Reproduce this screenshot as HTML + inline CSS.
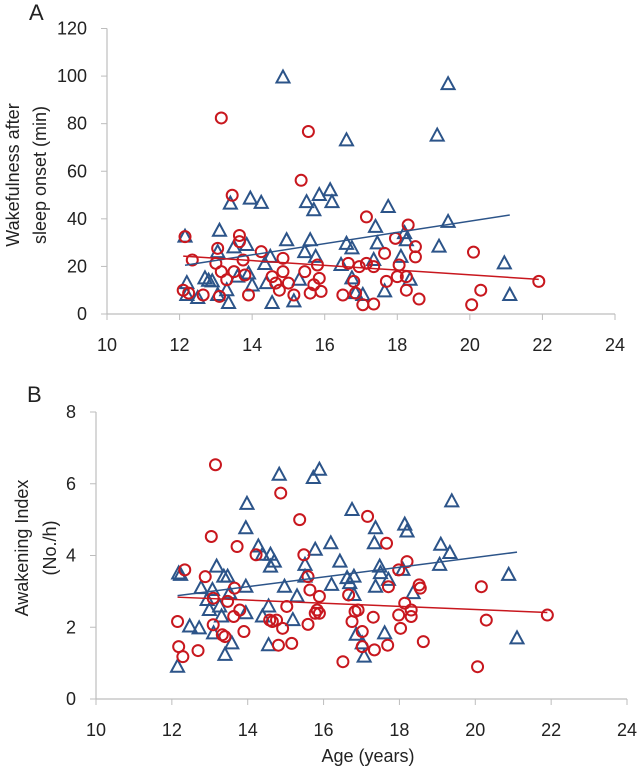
<!DOCTYPE html>
<html><head><meta charset="utf-8"><style>
body{margin:0;background:#fff;}
svg text{font-family:"Liberation Sans",sans-serif;fill:#222;}
</style></head><body>
<svg id="chart" width="640" height="768" xmlns="http://www.w3.org/2000/svg"></svg>
<script>
// Panel A data (age, WASO minutes)
const aTriX=[12.15,12.2,12.2,12.5,12.7,12.8,12.9,13.05,13.1,13.05,13.3,13.35,13.4,13.5,13.6,13.85,13.9,14.0,13.95,14.25,14.35,14.4,14.5,14.55,14.85,14.95,15.15,15.3,15.45,15.5,15.6,15.7,15.75,15.85,16.15,16.2,16.45,16.6,16.6,16.75,16.75,16.85,17.05,17.35,17.4,17.45,17.65,17.75,18.1,18.2,18.25,18.35,19.1,19.15,19.4,19.4,20.95,21.1];
const aTriY=[32.5,13,8,6.7,15,14,13.7,26,35,8,10,4.6,46.4,28,15.7,29,17,12,48.5,46.7,21,13,24,4.6,99.4,31,5.3,14.4,26,47,31,43.6,24,50,52,47,20.6,73,29.5,27.6,15,8.8,8,22.7,36.6,29.7,9.5,45,24,34,31,14.4,75,28.3,96.6,38.7,21.3,8];
const aCirX=[12.15,12.1,12.25,12.35,12.65,13.05,13.0,13.15,13.1,13.15,13.3,13.45,13.5,13.65,13.65,13.75,13.8,13.9,14.25,14.55,14.65,14.75,14.85,14.85,15.0,15.15,15.35,15.45,15.55,15.6,15.7,15.8,15.85,15.9,16.5,16.65,16.8,16.85,16.95,17.05,17.15,17.15,17.35,17.35,17.65,17.7,17.95,18.0,18.05,18.25,18.25,18.3,18.5,18.5,18.6,20.05,20.1,20.3,21.9];
const aCirY=[32.5,10,8.8,22.7,8,27.6,21.3,17.8,7.4,82.4,14.4,49.9,17.8,33,30.4,22.7,16.4,8,26.2,15.7,13,10,23.4,17.8,13,8,56.2,17.8,76.7,8.8,12.3,20.6,15,9.5,8,21.3,13.7,8.8,19.9,3.9,21.3,40.8,19.9,4.2,25.5,13.7,31.8,15.7,20.6,15.7,10,37.4,28.3,24,6.3,3.9,26,10,13.7];
const aXTicks=[10,12,14,16,18,20,22,24];
const aYTicks=[0,20,40,60,80,100,120];
// Panel B data (age, awakening index)
const bTriX=[12.15,12.18,12.23,12.47,12.72,12.77,12.93,12.99,13.07,13.1,13.18,13.26,13.31,13.37,13.4,13.47,13.52,13.58,13.95,13.95,13.95,13.98,14.28,14.39,14.39,14.55,14.55,14.6,14.6,14.7,14.83,14.97,15.19,15.3,15.51,15.51,15.73,15.78,15.89,16.19,16.21,16.43,16.62,16.69,16.75,16.8,16.8,16.86,17.02,17.07,17.34,17.37,17.37,17.48,17.5,17.61,17.71,18.09,18.14,18.2,18.36,19.06,19.09,19.33,19.38,20.88,21.1];
const bTriY=[0.9,3.5,3.46,2.02,1.97,3.09,2.76,2.48,3.04,1.83,3.69,2.58,2.3,3.41,1.23,3.41,2.95,1.55,3.13,2.39,4.76,5.44,4.25,4.02,2.3,2.58,1.5,4.02,3.69,3.83,6.25,3.13,2.2,2.86,3.74,3.41,6.16,4.16,6.39,4.34,3.18,3.83,3.37,3.23,5.27,3.41,2.9,1.79,1.55,1.18,4.34,4.76,3.13,3.69,3.51,1.83,3.32,3.6,4.86,4.67,2.95,3.74,4.3,4.07,5.51,3.46,1.69];
const bCirX=[12.15,12.18,12.29,12.34,12.69,12.88,13.04,13.09,13.09,13.15,13.33,13.4,13.47,13.63,13.65,13.72,13.79,13.9,14.22,14.58,14.65,14.76,14.81,14.87,14.92,15.03,15.16,15.37,15.48,15.59,15.59,15.64,15.78,15.83,15.89,15.89,16.51,16.66,16.75,16.83,16.91,17.02,17.02,17.16,17.31,17.34,17.66,17.69,17.71,17.98,17.98,18.03,18.14,18.2,18.31,18.31,18.52,18.55,18.63,20.06,20.16,20.29,21.9];
const bCirY=[2.16,1.46,1.18,3.6,1.35,3.41,4.53,2.81,2.07,6.53,1.79,1.74,2.72,2.3,3.09,4.25,2.48,1.88,4.02,2.2,2.16,2.2,1.5,5.74,1.97,2.58,1.55,5.0,4.02,3.41,2.08,3.04,2.39,2.48,2.86,2.39,1.04,2.9,2.16,2.44,2.48,1.88,1.46,5.09,2.28,1.37,4.34,1.5,3.13,3.6,2.34,1.97,2.67,3.83,2.48,2.3,3.18,3.09,1.6,0.9,3.13,2.2,2.34];
const bXTicks=[10,12,14,16,18,20,22,24];
const bYTicks=[0,2,4,6,8];

const NS="http://www.w3.org/2000/svg";
const svg=document.getElementById('chart');
function mk(tag,attrs,parent){const e=document.createElementNS(NS,tag);for(const k in attrs)e.setAttribute(k,attrs[k]);(parent||svg).appendChild(e);return e;}
function fit(xs,ys){const n=xs.length;let mx=0,my=0;for(let i=0;i<n;i++){mx+=xs[i];my+=ys[i];}mx/=n;my/=n;let sxy=0,sxx=0;for(let i=0;i<n;i++){sxy+=(xs[i]-mx)*(ys[i]-my);sxx+=(xs[i]-mx)**2;}const b=sxy/sxx;return [my-b*mx,b];}

function panel(p){
  const g=mk('g',{});
  
  
  const sx=v=>p.x0+(v-p.xmin)/(p.xmax-p.xmin)*(p.x1-p.x0);
  const sy=v=>p.y0+(v-p.ymin)/(p.ymax-p.ymin)*(p.y1-p.y0);
  const ax=mk('line',{x1:p.x0,y1:p.y0,x2:p.x1,y2:p.y0,stroke:'#bdbdbd','stroke-width':1.2},g);
  
  const ay=mk('line',{x1:p.x0,y1:p.y0,x2:p.x0,y2:p.y1,stroke:'#bdbdbd','stroke-width':1.2},g);
  
  p.xt.forEach(v=>{
    mk('line',{x1:sx(v),x2:sx(v),y1:p.y0,y2:p.y0+6,stroke:'#bdbdbd'},g);
    const t=mk('text',{x:sx(v),y:p.y0+37,'text-anchor':'middle','font-size':18},g);t.textContent=v;
    
  });
  p.yt.forEach(v=>{
    mk('line',{x1:p.x0-6,x2:p.x0,y1:sy(v),y2:sy(v),stroke:'#bdbdbd'},g);
    const t=mk('text',{x:p.x0-20,y:sy(v)+6,'text-anchor':'end','font-size':18},g);t.textContent=v;
    
  });
  p.triX.forEach((x,i)=>{
    const cx=sx(x),cy=sy(p.triY[i]);
    const m=mk('polygon',{points:`${cx},${cy-7} ${cx-6.5},${cy+5} ${cx+6.5},${cy+5}`,fill:'none',stroke:'#2c5489','stroke-width':2},g);
    
  });
  p.cirX.forEach((x,i)=>{
    const m=mk('circle',{cx:sx(x),cy:sy(p.cirY[i]),r:5.5,fill:'none',stroke:'#c8171e','stroke-width':2},g);
    
  });
  [[p.triX,p.triY,'#2c5489','triangle-trendline'],[p.cirX,p.cirY,'#c8171e','circle-trendline']].forEach(s=>{
    const [a,b]=fit(s[0],s[1]);const lo=Math.min(...s[0]),hi=Math.max(...s[0]);
    const l=mk('line',{x1:sx(lo),y1:sy(a+b*lo),x2:sx(hi),y2:sy(a+b*hi),stroke:s[2],'stroke-width':1.5},g);
    
  });
}
panel({name:'panel-a',x0:107,x1:615,xmin:10,xmax:24,y0:314,y1:28.5,ymin:0,ymax:120,xt:aXTicks,yt:aYTicks,triX:aTriX,triY:aTriY,cirX:aCirX,cirY:aCirY});
panel({name:'panel-b',x0:96,x1:627,xmin:10,xmax:24,y0:699,y1:412,ymin:0,ymax:8,xt:bXTicks,yt:bYTicks,triX:bTriX,triY:bTriY,cirX:bCirX,cirY:bCirY});
</script>
<svg width="640" height="768" style="position:absolute;left:0;top:0" xmlns="http://www.w3.org/2000/svg">
<text x="29" y="20" font-size="22">A</text>
<text x="27" y="402" font-size="22">B</text>
<text transform="translate(19,175) rotate(-90)" text-anchor="middle" font-size="18">Wakefulness after</text>
<text transform="translate(46,175) rotate(-90)" text-anchor="middle" font-size="18">sleep onset (min)</text>
<text transform="translate(28,548) rotate(-90)" text-anchor="middle" font-size="18">Awakening Index</text>
<text transform="translate(56,548) rotate(-90)" text-anchor="middle" font-size="18">(No./h)</text>
<text x="368" y="762" text-anchor="middle" font-size="18">Age (years)</text>
</svg>
</body></html>
